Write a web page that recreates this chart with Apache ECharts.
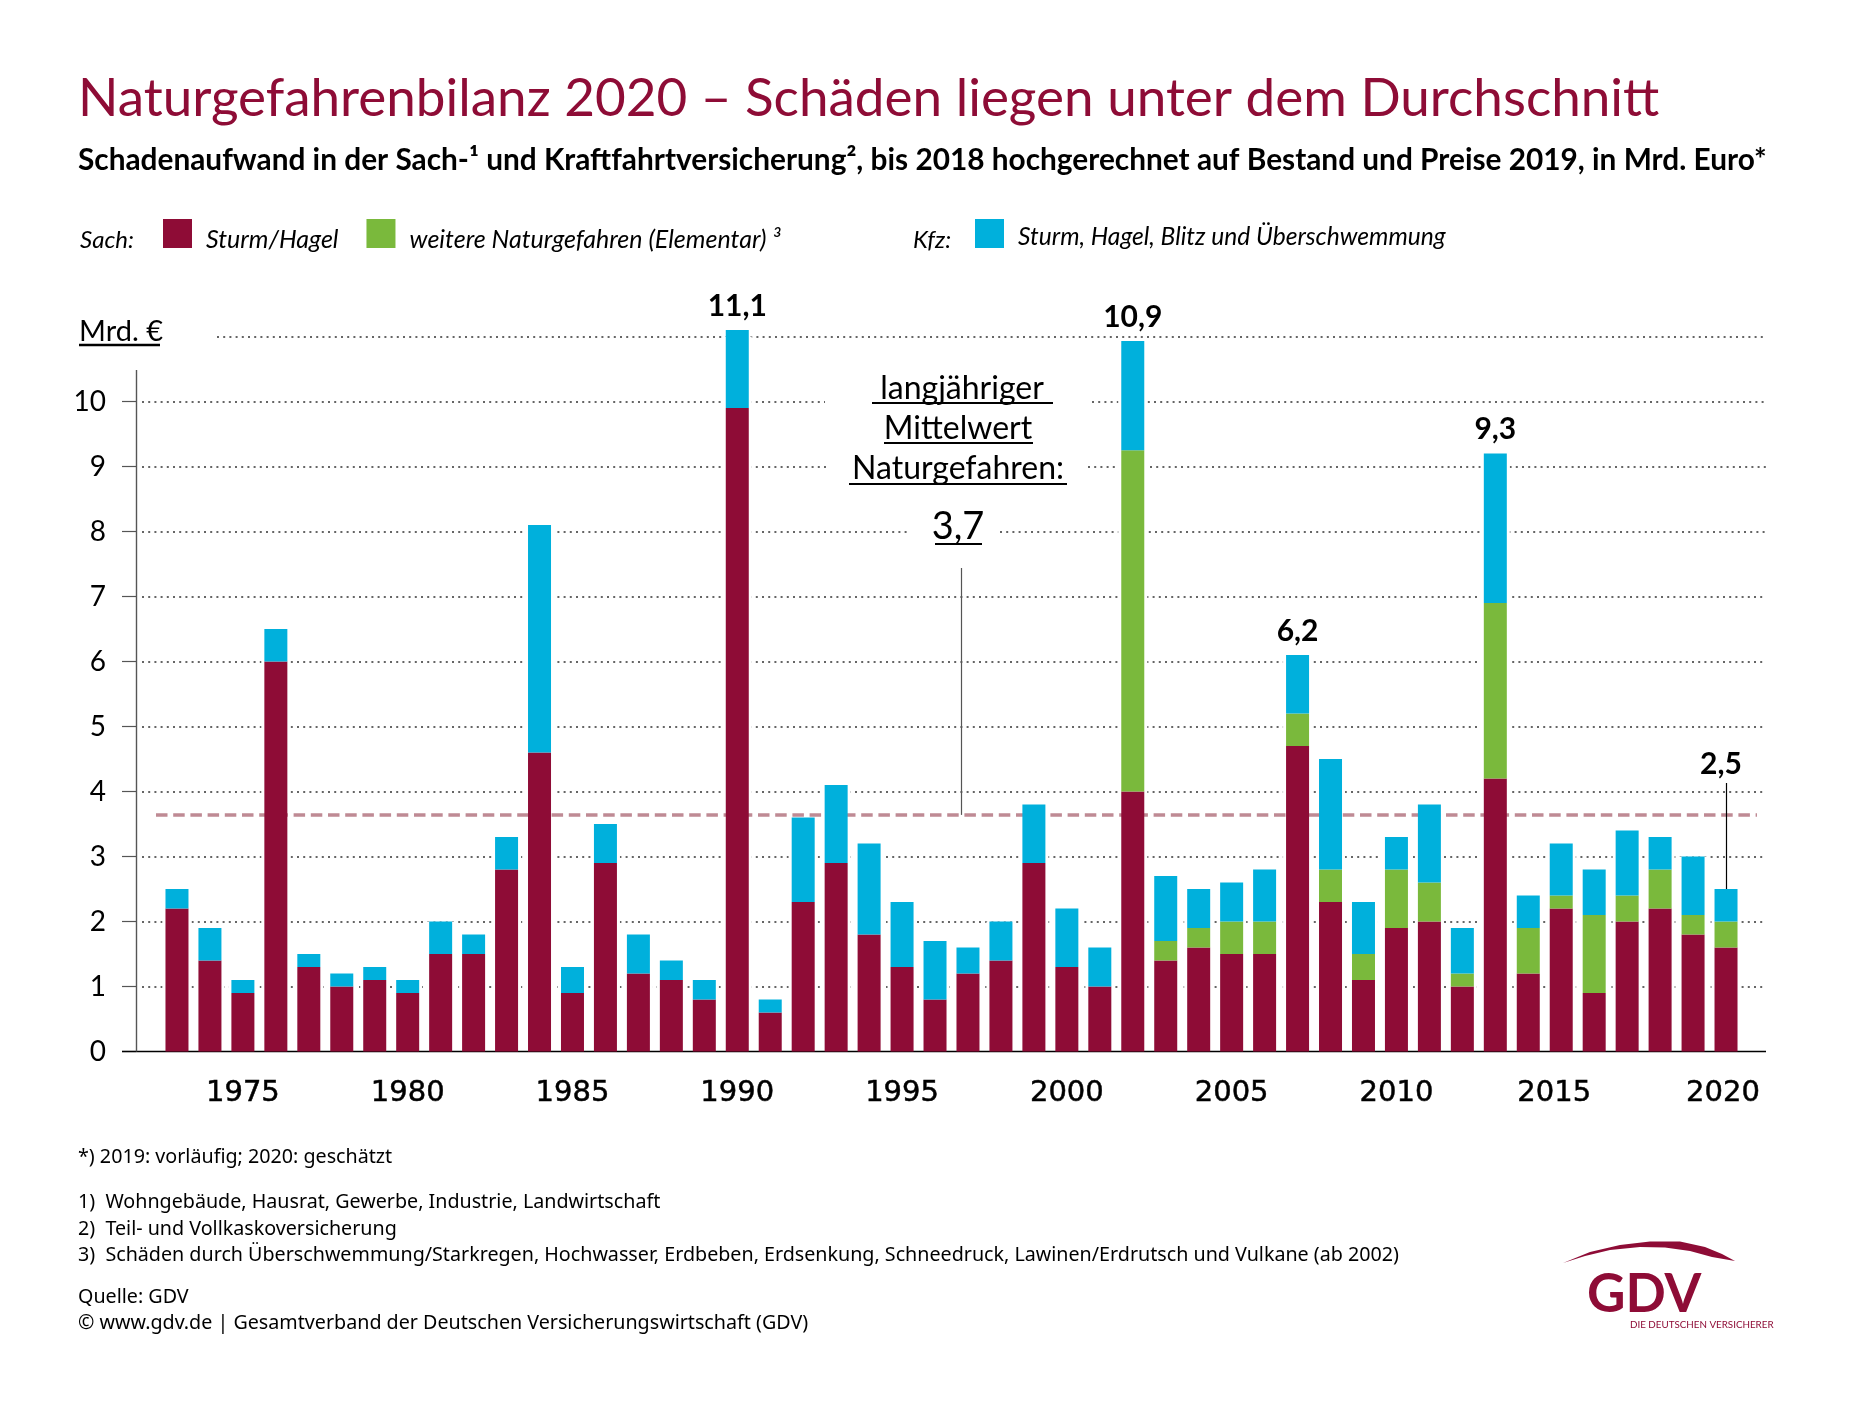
<!DOCTYPE html>
<html>
<head>
<meta charset="utf-8">
<title>Naturgefahrenbilanz 2020</title>
<script src="https://cdn.jsdelivr.net/npm/echarts@6/dist/echarts.min.js"></script>
<style>
html, body { margin: 0; padding: 0; background: #fff; }
#chart { width: 1850px; height: 1406px; }
</style>
</head>
<body>
<div id="chart"></div>
<script>
var years = [1973,1974,1975,1976,1977,1978,1979,1980,1981,1982,1983,1984,1985,1986,1987,1988,1989,1990,1991,1992,1993,1994,1995,1996,1997,1998,1999,2000,2001,2002,2003,2004,2005,2006,2007,2008,2009,2010,2011,2012,2013,2014,2015,2016,2017,2018,2019,2020];
var sturmHagel = [2.2,1.4,0.9,6.0,1.3,1.0,1.1,0.9,1.5,1.5,2.8,4.6,0.9,2.9,1.2,1.1,0.8,9.9,0.6,2.3,2.9,1.8,1.3,0.8,1.2,1.4,2.9,1.3,1.0,4.0,1.4,1.6,1.5,1.5,4.7,2.3,1.1,1.9,2.0,1.0,4.2,1.2,2.2,0.9,2.0,2.2,1.8,1.6];
var elementar = [0,0,0,0,0,0,0,0,0,0,0,0,0,0,0,0,0,0,0,0,0,0,0,0,0,0,0,0,0,5.25,0.3,0.3,0.5,0.5,0.5,0.5,0.4,0.9,0.6,0.2,2.7,0.7,0.2,1.2,0.4,0.6,0.3,0.4];
var kfz = [0.3,0.5,0.2,0.5,0.2,0.2,0.2,0.2,0.5,0.3,0.5,3.5,0.4,0.6,0.6,0.3,0.3,1.2,0.2,1.3,1.2,1.4,1.0,0.9,0.4,0.6,0.9,0.9,0.6,1.68,1.0,0.6,0.6,0.8,0.9,1.7,0.8,0.5,1.2,0.7,2.3,0.5,0.8,0.7,1.0,0.5,0.9,0.5];
var peakYears = [1990,2002,2007,2013,2020];
var peakLabels = ['11,1','10,9','6,2','9,3','2,5'];
var yTicks = [0,1,2,3,4,5,6,7,8,9,10];
var xTickYears = [1975,1980,1985,1990,1995,2000,2005,2010,2015,2020];
var mittelwert = 3.64;

var footnotes = [
  '*) 2019: vorläufig; 2020: geschätzt',
  '1)  Wohngebäude, Hausrat, Gewerbe, Industrie, Landwirtschaft',
  '2)  Teil- und Vollkaskoversicherung',
  '3)  Schäden durch Überschwemmung/Starkregen, Hochwasser, Erdbeben, Erdsenkung, Schneedruck, Lawinen/Erdrutsch und Vulkane (ab 2002)',
  'Quelle: GDV',
  '© www.gdv.de | Gesamtverband der Deutschen Versicherungswirtschaft (GDV)'
];
var footnoteCenters = [1157, 1202, 1229, 1255, 1297, 1323];

var MAROON = '#8e0c36', GREEN = '#7ab93c', BLUE = '#00b0dc', FONT = 'Lato';

var totals = years.map(function (y, i) { return sturmHagel[i] + elementar[i] + kfz[i]; });

// gridline piece from pixel x1 to pixel x2 at a value
function gridPiece(x1, x2, v) {
  return [{ x: x1, yAxis: v }, { x: x2, yAxis: v }];
}
var gridPieces = [gridPiece(217, 1766, 11)];
[1, 2, 3, 4, 5, 6, 7].forEach(function (v) { gridPieces.push(gridPiece(142, 1766, v)); });
gridPieces.push(gridPiece(142, 908, 8), gridPiece(1000, 1766, 8));
gridPieces.push(gridPiece(142, 827, 9), gridPiece(1088, 1766, 9));
gridPieces.push(gridPiece(142, 825, 10), gridPiece(1092, 1766, 10));

var kfzData = kfz.map(function (v, i) {
  var p = peakYears.indexOf(years[i]);
  if (p < 0) return v;
  var isLast = years[i] === 2020;
  return {
    value: v,
    label: {
      show: true, position: 'top', distance: isLast ? 5 : 9, offset: isLast ? [-5, -105] : [0, 0],
      formatter: peakLabels[p], fontFamily: FONT, fontWeight: 'bold', fontSize: 30, color: '#000'
    }
  };
});

var xData = years.map(function (y) {
  var d = { value: String(y) };
  if (y === 2015) d.textStyle = { padding: [0, 14, 0, 0] };
  if (y === 2020) d.textStyle = { padding: [0, 6, 0, 0] };
  return d;
});

function isTickYear(i) { return xTickYears.indexOf(years[i]) >= 0; }

function plainText(text, x, y, size, extra) {
  var style = { text: text, x: x, y: y, fill: '#000', textVerticalAlign: 'middle', font: size + 'px ' + FONT };
  for (var k in extra) style[k] = extra[k];
  return { type: 'text', silent: true, z: 20, style: style };
}
function rule(x1, x2, y, w) {
  return { type: 'line', silent: true, z: 20, shape: { x1: x1, y1: y, x2: x2, y2: y }, style: { stroke: '#000', lineWidth: w } };
}

var graphics = [
  plainText('Sach:', 80, 240, 24, { font: 'italic 24px ' + FONT }),
  plainText('Kfz:', 913, 240, 24, { font: 'italic 24px ' + FONT }),
  plainText('Mrd. €', 79, 332, 29),
  rule(79, 160, 345, 2.4),
  plainText('langjähriger', 962, 389, 32, { textAlign: 'center' }),
  plainText('Mittelwert', 958, 429, 32, { textAlign: 'center' }),
  plainText('Naturgefahren:', 958, 469, 32, { textAlign: 'center' }),
  plainText('3,7', 958, 527, 38, { textAlign: 'center' }),
  rule(872, 1053, 403, 2),
  rule(884, 1033, 443, 2),
  rule(849, 1067, 484, 2),
  rule(935, 982, 544, 2),
  // GDV logo
  {
    type: 'polygon', silent: true, z: 20,
    shape: { points: [[1563,1263],[1590,1252],[1620,1245],[1650,1241.5],[1680,1241.5],[1705,1247],[1722,1254],[1735,1261],[1712,1257],[1690,1251],[1665,1247.5],[1640,1247],[1610,1250],[1585,1256]] },
    style: { fill: MAROON }
  },
  plainText('GDV', 1587, 1295, 53, { font: 'bold 53px ' + FONT, fill: MAROON }),
  plainText('DIE DEUTSCHEN VERSICHERER', 1630, 1325, 9.8, { fill: MAROON })
];
footnotes.forEach(function (t, i) { graphics.push(plainText(t, 78, footnoteCenters[i], 19.7, { font: '19.7px "Noto Sans"' })); });

var chart = echarts.init(document.getElementById('chart'));
chart.setOption({
  animation: false,
  backgroundColor: '#fff',
  textStyle: { fontFamily: FONT },
  title: [
    { text: 'Naturgefahrenbilanz 2020 – Schäden liegen unter dem Durchschnitt', left: 78, top: 72, padding: 0,
      textStyle: { color: MAROON, fontFamily: FONT, fontSize: 53, fontWeight: 'normal' } },
    { text: 'Schadenaufwand in der Sach-¹ und Kraftfahrtversicherung², bis 2018 hochgerechnet auf Bestand und Preise 2019, in Mrd. Euro*', left: 78, top: 145, padding: 0,
      textStyle: { color: '#000', fontFamily: FONT, fontSize: 29.8, fontWeight: 'bold' } }
  ],
  legend: [
    // icon path is taller than its square so the text sits lower than the swatch
    { left: 163, top: 219, padding: 0, itemWidth: 29, itemHeight: 42, itemGap: 28, selectedMode: false,
      icon: 'path://M0 0H29V29H0Z M0 42H0.01Z',
      data: ['Sturm/Hagel', 'weitere Naturgefahren (Elementar) ³'],
      textStyle: { fontFamily: FONT, fontStyle: 'italic', fontSize: 25, color: '#000', padding: [0, 0, 0, 9] } },
    { left: 975, top: 219, padding: 0, itemWidth: 29, itemHeight: 37, selectedMode: false,
      icon: 'path://M0 0H29V29H0Z M0 37H0.01Z',
      data: ['Sturm, Hagel, Blitz und Überschwemmung'],
      textStyle: { fontFamily: FONT, fontStyle: 'italic', fontSize: 24.6, color: '#000', padding: [0, 0, 0, 9] } }
  ],
  grid: { left: 160.5, top: 336.5, width: 1582, height: 715, containLabel: false },
  xAxis: [
    {
      type: 'category', data: xData, axisLine: { show: false },
      axisTick: { alignWithLabel: true, length: 13, interval: function (i) { return isTickYear(i); }, lineStyle: { color: '#666', width: 1.2 } },
      axisLabel: { interval: function (i) { return isTickYear(i); }, margin: 27, fontFamily: 'DejaVu Sans', fontSize: 29, color: '#000', textBorderColor: '#000', textBorderWidth: 0.5 }
    },
    { type: 'category', data: years.map(String), show: false }
  ],
  yAxis: {
    type: 'value', min: 0, max: 11, interval: 1, offset: 24.5, splitLine: { show: false }, axisLine: { show: false },
    axisTick: { show: true, length: 14, customValues: yTicks, lineStyle: { color: '#555', width: 1.2 } },
    axisLabel: { customValues: yTicks, margin: 30, fontFamily: FONT, fontSize: 28, color: '#000' }
  },
  series: [
    {
      // white band behind the bars, cuts the dotted lines
      name: 'halo', type: 'bar', xAxisIndex: 1, barWidth: 29, z: 2, silent: true,
      data: totals, itemStyle: { color: '#fff' },
      markLine: {
        silent: true, symbol: 'none', z: 1, animation: false, label: { show: false },
        lineStyle: { color: '#333', type: [2, 4.2], width: 1.6 },
        emphasis: { disabled: true }, data: gridPieces
      }
    },
    {
      name: 'Sturm/Hagel', type: 'bar', stack: 'schaden', barWidth: 23, z: 4, silent: true,
      data: sturmHagel, itemStyle: { color: MAROON },
      markLine: {
        silent: true, symbol: 'none', z: 3, animation: false, label: { show: false },
        data: [
          [{ x: 156, yAxis: mittelwert, lineStyle: { color: '#bf8a94', type: [11.5, 5.7], width: 3.5 } }, { x: 1757, yAxis: mittelwert }],
          [{ x: 122, yAxis: 0, lineStyle: { color: '#000', type: 'solid', width: 1.4 } }, { x: 1766, yAxis: 0 }],
          [{ x: 136, yAxis: 0, lineStyle: { color: '#555', type: 'solid', width: 1.4 } }, { x: 136, y: 370 }],
          [{ x: 961, yAxis: mittelwert, lineStyle: { color: '#555', type: 'solid', width: 1.2 } }, { x: 961, y: 568 }],
          [{ xAxis: '2020', yAxis: 2.5, lineStyle: { color: '#000', type: 'solid', width: 1.2 } }, { xAxis: '2020', y: 783 }]
        ]
      }
    },
    { name: 'weitere Naturgefahren (Elementar) ³', type: 'bar', stack: 'schaden', barWidth: 23, z: 4, silent: true,
      data: elementar, itemStyle: { color: GREEN } },
    { name: 'Sturm, Hagel, Blitz und Überschwemmung', type: 'bar', stack: 'schaden', barWidth: 23, z: 4, silent: true, clip: false,
      data: kfzData, itemStyle: { color: BLUE } }
  ],
  graphic: graphics
});
</script>
</body>
</html>
